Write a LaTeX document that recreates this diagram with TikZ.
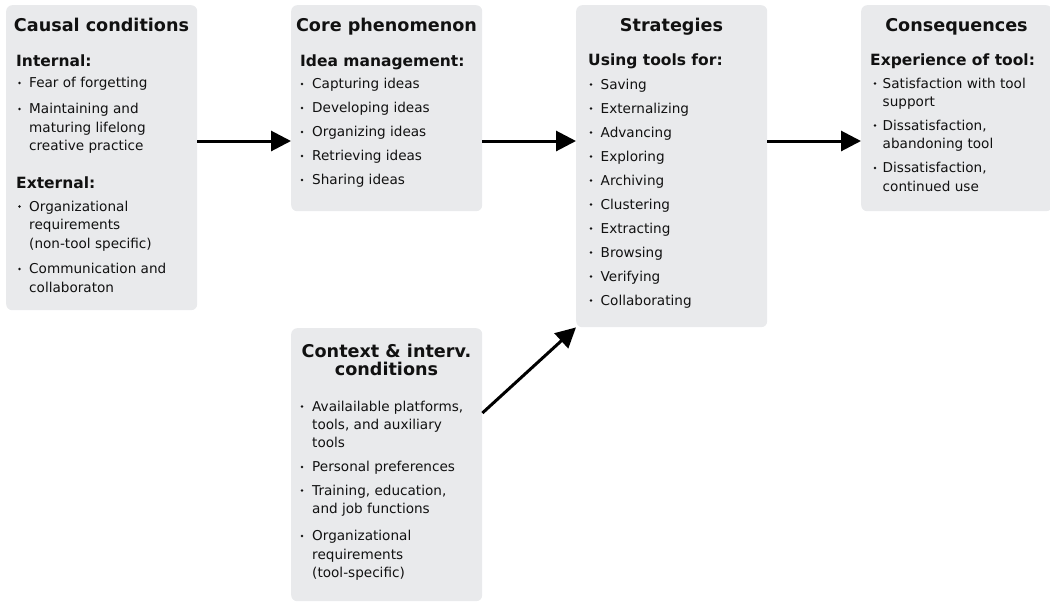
\documentclass[tikz,border=0pt]{standalone}
\usepackage{fontspec}
\setmainfont{DejaVu Sans}
\usetikzlibrary{arrows.meta,calc}
\definecolor{boxgray}{HTML}{E9EAEC}
\definecolor{ink}{HTML}{111111}
\tikzset{
 box/.style={fill=boxgray, rounded corners=6pt, anchor=north west, inner sep=0pt, draw=none},
 ttl/.style={font=\fontsize{17.6}{18}\selectfont\bfseries, anchor=base, inner sep=0pt, text=ink},
 sub/.style={font=\fontsize{15.5}{16}\selectfont\bfseries, anchor=base west, inner sep=0pt, text=ink},
 txt/.style={font=\fontsize{13.6}{14}\selectfont, anchor=base west, inner sep=0pt, text=ink},
 bdot/.style={circle, fill=ink, inner sep=0pt, minimum size=2.6pt},
 arr/.style={line width=3pt, draw=black, -{Triangle[length=20pt,width=20pt]}},
}
\newcommand\Itm[5]{\node[bdot] (#1d) at (#2,#4-4.5) {}; \node[txt] (#1) at (#3,#4) {#5};}
\newcommand\Cnt[4]{\node[txt] (#1) at (#2,#3) {#4};}
\begin{document}
\begin{tikzpicture}[x=1pt,y=-1pt]
\useasboundingbox (0,0) rectangle (1050,603);
% boxes
\node[box, minimum width=191pt, minimum height=305pt] (cc) at (6,5) {};
\node[box, minimum width=191pt, minimum height=206pt] (cp) at (291,5) {};
\node[box, minimum width=191pt, minimum height=322pt] (st) at (576,5) {};
\node[box, minimum width=191pt, minimum height=206pt] (cq) at (861,5) {};
\node[box, minimum width=191pt, minimum height=273pt] (cx) at (291,328) {};
% Box 1
\node[ttl] (t1) at (101.5,31.5) {Causal conditions};
\node[sub] (s1a) at (16,66) {Internal:};
\Itm{a1}{19.5}{29}{87.5}{Fear of forgetting}
\Itm{a2}{19.5}{29}{113.5}{Maintaining and}
\Cnt{a2b}{29}{132}{maturing lifelong}
\Cnt{a2c}{29}{150.5}{creative practice}
\node[sub] (s1b) at (16,188.5) {External:};
\Itm{a3}{19.5}{29}{211}{Organizational}
\Cnt{a3b}{29}{229.5}{requirements}
\Cnt{a3c}{29}{248}{(non-tool specific)}
\Itm{a4}{19.5}{29}{273.5}{Communication and}
\Cnt{a4b}{29}{292}{collaboraton}
% Box 2
\node[ttl] (t2) at (386.5,31.5) {Core phenomenon};
\node[sub] (s2) at (300,66) {Idea management:};
\Itm{b1}{302}{312}{88.5}{Capturing ideas}
\Itm{b2}{302}{312}{112.5}{Developing ideas}
\Itm{b3}{302}{312}{136.5}{Organizing ideas}
\Itm{b4}{302}{312}{160.5}{Retrieving ideas}
\Itm{b5}{302}{312}{184.5}{Sharing ideas}
% Box 3
\node[ttl] (t3) at (671.5,31.5) {Strategies};
\node[sub] (s3) at (588,65.5) {Using tools for:};
\Itm{c1}{591}{600.5}{89}{Saving}
\Itm{c2}{591}{600.5}{113}{Externalizing}
\Itm{c3}{591}{600.5}{137}{Advancing}
\Itm{c4}{591}{600.5}{161}{Exploring}
\Itm{c5}{591}{600.5}{185}{Archiving}
\Itm{c6}{591}{600.5}{209}{Clustering}
\Itm{c7}{591}{600.5}{233}{Extracting}
\Itm{c8}{591}{600.5}{257}{Browsing}
\Itm{c9}{591}{600.5}{281}{Verifying}
\Itm{c10}{591}{600.5}{305}{Collaborating}
% Box 4
\node[ttl] (t4) at (956.5,31.5) {Consequences};
\node[sub] (s4) at (870,65.5) {Experience of tool:};
\Itm{d1}{875}{882.5}{88}{Satisfaction with tool}
\Cnt{d1b}{882.5}{106.5}{support}
\Itm{d2}{875}{882.5}{130}{Dissatisfaction,}
\Cnt{d2b}{882.5}{148.5}{abandoning tool}
\Itm{d3}{875}{882.5}{172.5}{Dissatisfaction,}
\Cnt{d3b}{882.5}{191}{continued use}
% Box 5
\node[ttl] (t5a) at (386.5,357.5) {Context \& interv.};
\node[ttl] (t5b) at (386.5,375.5) {conditions};
\Itm{e1}{302}{312}{411}{Availailable platforms,}
\Cnt{e1b}{312}{429}{tools, and auxiliary}
\Cnt{e1c}{312}{447}{tools}
\Itm{e2}{302}{312}{471.5}{Personal preferences}
\Itm{e3}{302}{312}{495}{Training, education,}
\Cnt{e3b}{312}{513}{and job functions}
\Itm{e4}{302}{312}{540.5}{Organizational}
\Cnt{e4b}{312}{559}{requirements}
\Cnt{e4c}{312}{577}{(tool-specific)}
% arrows
\coordinate (ay) at (0,141);
\draw[arr] (cc.east |- ay) -- (cp.west |- ay);
\draw[arr] (cp.east |- ay) -- (st.west |- ay);
\draw[arr] (st.east |- ay) -- (cq.west |- ay);
\coordinate (ds) at ($(cx.north east)+(0,85)$);
\draw[arr] (ds) -- (st.south west);
\end{tikzpicture}
\end{document}
